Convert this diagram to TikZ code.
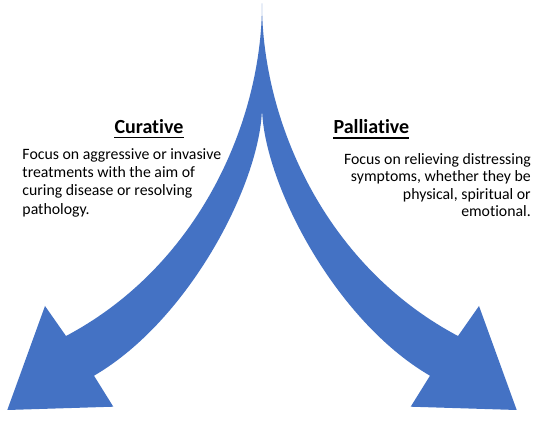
\documentclass[tikz,border=0pt]{standalone}
\usepackage{fontspec}
\setmainfont{Carlito}[Ligatures=NoCommon]
\definecolor{arrowblue}{RGB}{68,114,196}
\begin{document}
\begin{tikzpicture}[x=1pt,y=-1pt,
  body/.style={inner sep=0pt, font=\fontsize{15.8}{18}\selectfont},
  head/.style={inner sep=0pt, font=\fontsize{20}{24}\selectfont\bfseries},
  uline/.style={line width=1.4pt}]
\useasboundingbox (0,0) rectangle (539,422);
\fill[white] (0,0) rectangle (539,422);
% key points of the double arrow
\coordinate (T) at (262,3.3);
\coordinate (C) at (262,106);
\coordinate (NoL) at (66,336);
\coordinate (BuL) at (45,306);
\coordinate (TipL) at (7.3,410);
\coordinate (BlL) at (113.3,406.7);
\coordinate (NiL) at (94,375.7);
\coordinate (NoR) at (458,336);
\coordinate (BuR) at (479,306);
\coordinate (TipR) at (516.7,410);
\coordinate (BlR) at (410.7,406.7);
\coordinate (NiR) at (430,375.7);
\fill[arrowblue] (T) .. controls (262,120) and (200,265) .. (NoL)
  -- (BuL) -- (TipL) -- (BlL) -- (NiL)
  .. controls (190,320) and (262,180) .. (C)
  .. controls (262,180) and (334,320) .. (NiR)
  -- (BlR) -- (TipR) -- (BuR) -- (NoR)
  .. controls (324,265) and (262,120) .. (T) -- cycle;
% headings
\node[head, anchor=base west] (cur) at (114.3,133.5) {Curative};
\draw[uline] ([yshift=-4pt]cur.base west) -- ([yshift=-4pt]cur.base east);
\node[head, anchor=base west] (pal) at (333.3,134) {Palliative};
\draw[uline] ([yshift=-4pt]pal.base west) -- ([yshift=-4pt]pal.base east);
% left text
\node[body, anchor=base west] (c1) at (22.3,159.3) {Focus on aggressive or invasive};
\node[body, anchor=base west] (c2) at (22.3,177.6) {treatments with the aim of};
\node[body, anchor=base west] (c3) at (22.3,196) {curing disease or resolving};
\node[body, anchor=base west] (c4) at (22.3,214.3) {pathology.};
% right text
\node[body, anchor=base east] (p1) at (531,164.7) {Focus on relieving distressing};
\node[body, anchor=base east] (p2) at (531,182) {symptoms, whether they be};
\node[body, anchor=base east] (p3) at (531,199.3) {physical, spiritual or};
\node[body, anchor=base east] (p4) at (531,216.7) {emotional.};
\end{tikzpicture}
\end{document}
